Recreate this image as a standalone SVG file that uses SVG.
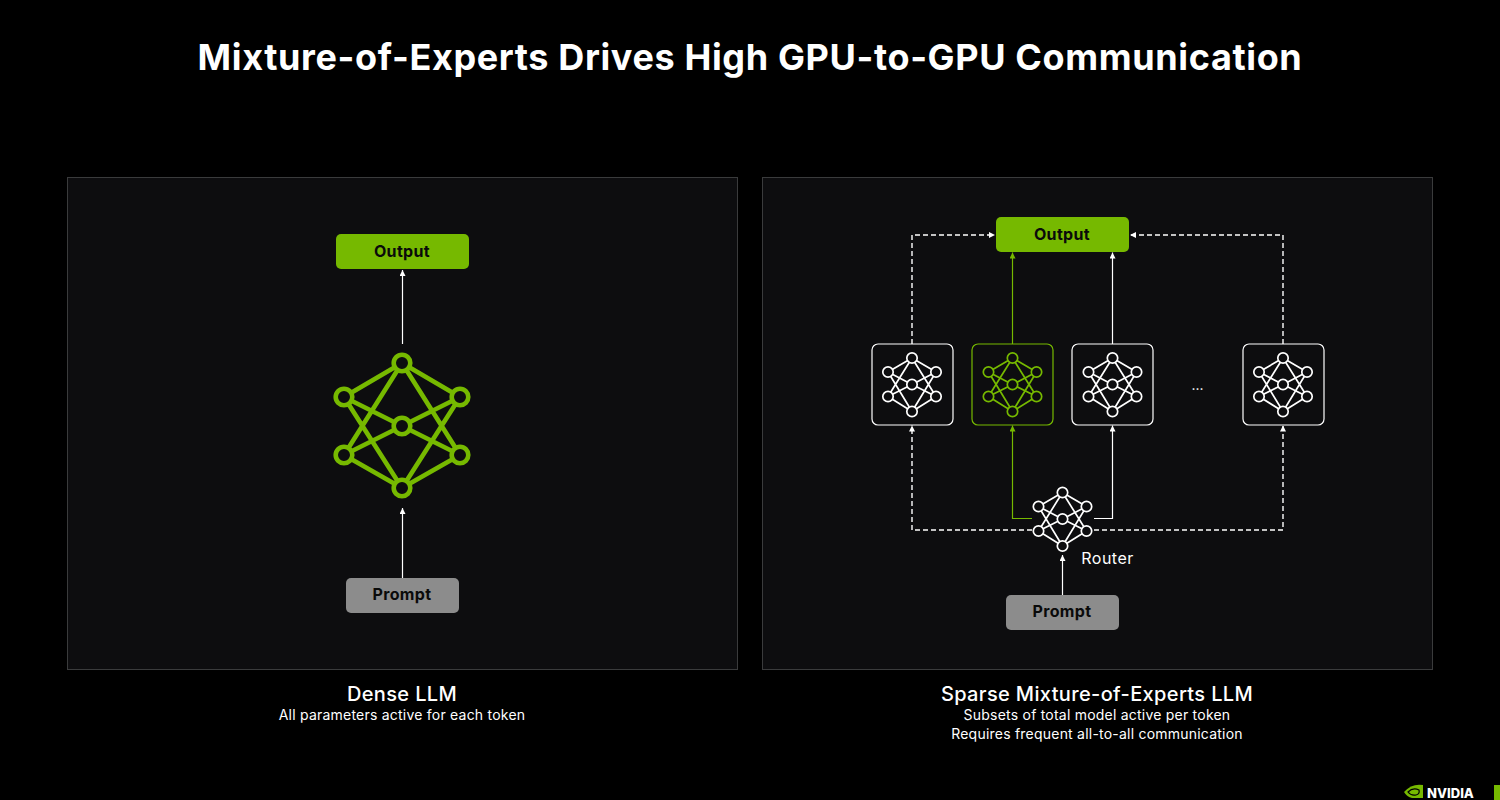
<svg xmlns="http://www.w3.org/2000/svg" width="1500" height="800" viewBox="0 0 1500 800">
<style>
text{font-family:Inter,"Noto Sans","Liberation Sans",sans-serif;text-anchor:middle}
.title{font-size:36px;font-weight:700;fill:#fff;letter-spacing:.63px}
.btn{font-size:16px;font-weight:700;fill:#0a0a0a;letter-spacing:.35px}
.head{font-size:20px;font-weight:500;fill:#fff;letter-spacing:.36px}
.sub{font-size:14px;fill:#fff;letter-spacing:.22px}
.panel{fill:#0d0d0f;stroke:#3a3b3c;stroke-width:1}
.g{fill:#76b900}
.p{fill:#8c8c8c}
.card{fill:#0d0d0f;stroke:#fff;stroke-width:1.2}
.cardg{fill:#0d0d0f;stroke:#76b900;stroke-width:1.2}
.w{stroke:#fff;fill:#0d0d0f}
.gr{stroke:#76b900;fill:#0d0d0f}
.c{fill:none;stroke:#fff;stroke-width:1.2}
.cg{fill:none;stroke:#76b900;stroke-width:1.2}
.d{stroke-dasharray:5 3;stroke-width:1.4}
</style>
<defs>
<marker id="a" markerUnits="userSpaceOnUse" markerWidth="7" markerHeight="7" refX="6" refY="3" orient="auto"><path d="M0 0L6 3L0 6Z" fill="#fff"/></marker>
<marker id="ag" markerUnits="userSpaceOnUse" markerWidth="7" markerHeight="7" refX="6" refY="3" orient="auto"><path d="M0 0L6 3L0 6Z" fill="#76b900"/></marker>
<g id="big" stroke-width="4.6">
<path fill="none" d="M0-63L-58-29M0-63L58-29M0-63L-58 29M0-63L58 29M0 62L-58-29M0 62L58-29M0 62L-58 29M0 62L58 29M0 0L-58-29M0 0L58-29M0 0L-58 29M0 0L58 29"/>
<circle cx="0" cy="-63" r="8.300"/><circle cx="-58" cy="-29" r="8.300"/><circle cx="58" cy="-29" r="8.300"/><circle cx="0" cy="0" r="8.300"/><circle cx="-58" cy="29" r="8.300"/><circle cx="58" cy="29" r="8.300"/><circle cx="0" cy="62" r="8.300"/>
</g>
<g id="small" stroke-width="1.7">
<path fill="none" d="M0-26.500L-24-12.500M0-26.500L24-12.500M0-26.500L-24 12M0-26.500L24 12M0 27L-24-12.500M0 27L24-12.500M0 27L-24 12M0 27L24 12M0 0L-24-12.500M0 0L24-12.500M0 0L-24 12M0 0L24 12"/>
<circle cx="0" cy="-26.500" r="5.200"/><circle cx="-24" cy="-12.500" r="5.200"/><circle cx="24" cy="-12.500" r="5.200"/><circle cx="0" cy="0" r="5.200"/><circle cx="-24" cy="12" r="5.200"/><circle cx="24" cy="12" r="5.200"/><circle cx="0" cy="27" r="5.200"/>
</g>
</defs>
<rect width="1500" height="800" fill="#000"/>
<text class="title" x="750" y="70">Mixture-of-Experts Drives High GPU-to-GPU Communication</text>
<rect id="panel-left" class="panel" x="67.500" y="177.500" width="670" height="492"/>
<rect id="panel-right" class="panel" x="762.500" y="177.500" width="670" height="492"/>
<g id="connectors">
<path class="c" marker-end="url(#a)" d="M402.500 344V270"/>
<path class="c" marker-end="url(#a)" d="M402.500 578V508"/>
<path class="c d" marker-end="url(#a)" d="M912 344V235H995"/>
<path class="c d" marker-end="url(#a)" d="M1283 344V235H1130"/>
<path class="cg" marker-end="url(#ag)" d="M1012.500 344V252.500"/>
<path class="c" marker-end="url(#a)" d="M1112.500 344V252.500"/>
<path class="cg" marker-end="url(#ag)" d="M1032 518.500H1012.500V425.500"/>
<path class="c" marker-end="url(#a)" d="M1094 518.500H1112.500V425.500"/>
<path class="c d" marker-end="url(#a)" d="M1032 530H912V425.500"/>
<path class="c d" marker-end="url(#a)" d="M1094 530H1283V425.500"/>
<path class="c" marker-end="url(#a)" d="M1062.500 595V555"/>
</g>
<g id="output-left"><rect class="g" x="336" y="234" width="133" height="35" rx="5"/><text class="btn" x="402" y="257">Output</text></g>
<g id="dense-network" class="gr"><use href="#big" x="402" y="426"/></g>
<g id="prompt-left"><rect class="p" x="346" y="578" width="113" height="35" rx="5"/><text class="btn" x="402" y="600">Prompt</text></g>
<g id="output-right"><rect class="g" x="996" y="217" width="133" height="35" rx="5"/><text class="btn" x="1062" y="240">Output</text></g>
<g id="expert-1"><rect class="card" x="872" y="344" width="81" height="81" rx="6"/><g class="w"><use href="#small" x="912" y="384.500"/></g></g>
<g id="expert-2"><rect class="cardg" x="972" y="344" width="81" height="81" rx="6"/><g class="gr"><use href="#small" x="1012.500" y="384.500"/></g></g>
<g id="expert-3"><rect class="card" x="1072" y="344" width="81" height="81" rx="6"/><g class="w"><use href="#small" x="1112.500" y="384.500"/></g></g>
<text x="1197.500" y="390" style="font-size:14px;fill:#fff">...</text>
<g id="expert-4"><rect class="card" x="1243" y="344" width="81" height="81" rx="6"/><g class="w"><use href="#small" x="1283" y="384.500"/></g></g>
<g id="router"><g class="w"><use href="#small" x="1062.500" y="519"/></g><text x="1107.500" y="564" style="font-size:16px;fill:#fff;letter-spacing:.5px">Router</text></g>
<g id="prompt-right"><rect class="p" x="1006" y="595" width="113" height="35" rx="5"/><text class="btn" x="1062" y="617">Prompt</text></g>
<text class="head" x="402" y="701">Dense LLM</text>
<text class="sub" x="402" y="720">All parameters active for each token</text>
<text class="head" x="1097" y="701">Sparse Mixture-of-Experts LLM</text>
<text class="sub" x="1097" y="720">Subsets of total model active per token</text>
<text class="sub" x="1097" y="739">Requires frequent all-to-all communication</text>
<g id="logo">
<path d="M1404 792Q1412 783 1423 785V798H1412Q1407 797 1404 792Z" fill="#76b900"/>
<path d="M1408 792Q1413 787 1419 790Q1420 794 1416 795Q1411 796 1408 792Z" fill="none" stroke="#000" stroke-width="1.200"/>
<text x="1450.500" y="798" style="font-size:13px;font-weight:800;fill:#fff">NVIDIA</text>
<rect x="1494" y="785" width="6" height="15" fill="#76b900"/>
</g>
</svg>
